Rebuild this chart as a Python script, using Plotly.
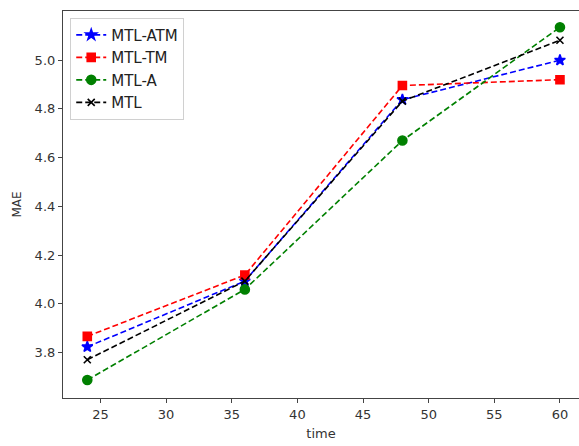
import plotly.graph_objects as go

time = [24, 36, 48, 60]
mtl_atm = [3.823, 4.093, 4.838, 5.0]
mtl_tm = [3.866, 4.118, 4.896, 4.92]
mtl_a = [3.687, 4.059, 4.67, 5.135]
mtl = [3.77, 4.093, 4.832, 5.082]

series = [
    ("MTL-ATM", mtl_atm, "#0000ff", "star", 8),
    ("MTL-TM", mtl_tm, "#ff0000", "square", 8),
    ("MTL-A", mtl_a, "#008000", "circle", 9),
    ("MTL", mtl, "#000000", "x-thin-open", 7),
]

fig = go.Figure()
for name, vals, col, sym, sz in series:
    fig.add_trace(go.Scatter(
        x=time, y=vals, name=name, mode="lines+markers",
        line=dict(color=col, width=1.6, dash="6px,3px"),
        marker=dict(symbol=sym, size=sz, color=col,
                    line=dict(color=col, width=1.6)),
    ))

fig.update_layout(
    width=579, height=446,
    margin=dict(l=63, r=0, t=11, b=48),
    paper_bgcolor="white", plot_bgcolor="white",
    font=dict(family="DejaVu Sans", size=13, color="#333333"),
    showlegend=True,
    legend=dict(x=0.014, y=0.983, xanchor="left", yanchor="top",
                bgcolor="white", bordercolor="#d0d0d0", borderwidth=1,
                font=dict(size=15, color="#222222"), tracegroupgap=0,
                itemwidth=30),
)
fig.update_xaxes(
    range=[22.15, 61.45], tickvals=[25, 30, 35, 40, 45, 50, 55, 60],
    automargin=False,
    showgrid=False, zeroline=False, showline=True, linecolor="#444444",
    linewidth=1.2, mirror=True, ticks="outside", ticklen=4, tickcolor="#444444",
    title=dict(text="time", font=dict(size=13), standoff=8),
)
fig.update_yaxes(
    range=[3.613, 5.202], tickvals=[3.8, 4.0, 4.2, 4.4, 4.6, 4.8, 5.0],
    tickformat=".1f", automargin=False,
    showgrid=False, zeroline=False, showline=True, linecolor="#444444",
    linewidth=1.2, ticks="outside", ticklen=4, tickcolor="#444444",
    title=dict(text="MAE", font=dict(size=12), standoff=10),
)

fig.write_html("out.html", config={"displayModeBar": False},
               post_script="document.body.style.margin='0';document.body.style.overflow='hidden';")
